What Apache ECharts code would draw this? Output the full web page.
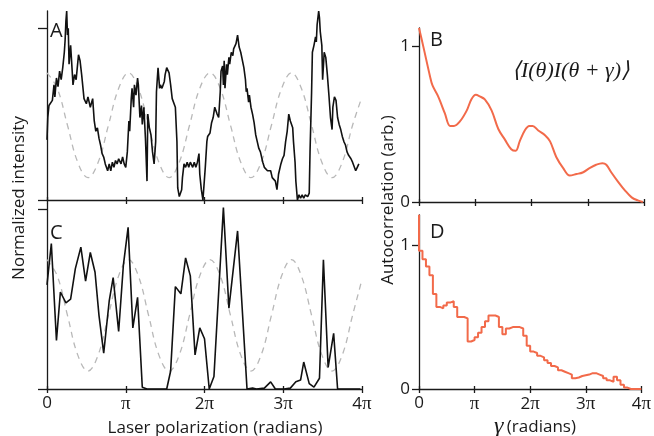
<!DOCTYPE html>
<html>
<head>
<meta charset="utf-8">
<script src="https://cdn.jsdelivr.net/npm/echarts@6/dist/echarts.min.js"></script>
<style>
  html, body { margin: 0; padding: 0; background: #fff; }
  #chart { width: 654px; height: 436px; }
</style>
</head>
<body>
<div id="chart"></div>
<script>
// x values are in units of pi (0..4 -> 0..4pi)
const xTickLabels = ['0', 'π', '2π', '3π', '4π'];

// panel A: measured intensity vs polarization
const traceA = [
    [0.00, 0.35], [0.01, 0.48], [0.025, 0.55], [0.046, 0.55], [0.068, 0.58], [0.089, 0.67],
    [0.10, 0.60], [0.12, 0.71], [0.14, 0.66], [0.16, 0.75], [0.18, 0.70], [0.20, 0.77],
    [0.22, 0.86], [0.23, 0.93], [0.24, 1.04], [0.25, 1.10], [0.26, 0.96], [0.27, 1.00],
    [0.28, 0.79], [0.30, 0.90], [0.32, 0.75], [0.33, 0.67], [0.35, 0.73], [0.37, 0.70],
    [0.40, 0.845], [0.42, 0.81], [0.44, 0.73], [0.47, 0.59], [0.50, 0.56], [0.52, 0.60],
    [0.55, 0.54], [0.58, 0.59], [0.60, 0.46], [0.62, 0.40], [0.64, 0.42], [0.66, 0.36],
    [0.68, 0.32], [0.70, 0.27], [0.72, 0.25], [0.74, 0.21], [0.77, 0.17], [0.79, 0.21],
    [0.81, 0.17], [0.83, 0.22], [0.85, 0.19], [0.87, 0.23], [0.89, 0.21], [0.91, 0.24],
    [0.94, 0.21], [0.96, 0.25], [0.98, 0.21], [1.00, 0.19], [1.02, 0.28], [1.04, 0.46],
    [1.05, 0.40], [1.07, 0.59], [1.08, 0.65], [1.10, 0.54], [1.11, 0.67], [1.13, 0.61],
    [1.15, 0.71], [1.16, 0.67], [1.18, 0.48], [1.20, 0.55], [1.21, 0.44], [1.23, 0.54],
    [1.25, 0.36], [1.27, 0.11], [1.28, 0.50], [1.30, 0.42], [1.32, 0.38], [1.34, 0.28],
    [1.36, 0.21], [1.38, 0.34], [1.39, 0.63], [1.41, 0.77], [1.43, 0.65], [1.44, 0.67],
    [1.46, 0.65], [1.49, 0.69], [1.50, 0.73], [1.52, 0.77], [1.54, 0.78], [1.55, 0.74],
    [1.57, 0.67], [1.59, 0.59], [1.61, 0.60], [1.63, 0.54], [1.65, 0.34], [1.66, 0.07],
    [1.68, 0.02], [1.71, 0.06], [1.72, 0.13], [1.74, 0.21], [1.76, 0.19], [1.78, 0.22],
    [1.80, 0.19], [1.82, 0.22], [1.85, 0.19], [1.87, 0.22], [1.89, 0.19], [1.91, 0.22],
    [1.93, 0.27], [1.94, 0.15], [1.96, 0.06], [1.98, 0.00], [2.00, 0.01], [2.01, 0.19],
    [2.03, 0.34], [2.04, 0.37], [2.07, 0.39], [2.09, 0.45], [2.11, 0.48], [2.13, 0.54],
    [2.15, 0.55], [2.16, 0.50], [2.18, 0.48], [2.20, 0.63], [2.21, 0.75], [2.23, 0.78],
    [2.24, 0.67], [2.25, 0.81], [2.26, 0.65], [2.28, 0.79], [2.29, 0.73], [2.31, 0.83],
    [2.32, 0.79], [2.34, 0.86], [2.36, 0.84], [2.37, 0.88], [2.40, 0.91], [2.42, 0.96],
    [2.44, 0.89], [2.46, 0.86], [2.48, 0.85], [2.50, 0.77], [2.52, 0.70], [2.53, 0.63],
    [2.54, 0.65], [2.56, 0.57], [2.57, 0.61], [2.59, 0.54], [2.61, 0.50], [2.63, 0.45],
    [2.65, 0.38], [2.67, 0.34], [2.69, 0.30], [2.71, 0.28], [2.74, 0.22], [2.76, 0.19],
    [2.78, 0.18], [2.80, 0.17], [2.82, 0.16], [2.84, 0.17], [2.86, 0.13], [2.88, 0.14],
    [2.90, 0.11], [2.92, 0.06], [2.94, 0.15], [2.97, 0.21], [2.99, 0.24], [3.01, 0.26],
    [3.03, 0.34], [3.05, 0.40], [3.07, 0.50], [3.09, 0.46], [3.12, 0.42], [3.13, 0.34],
    [3.15, 0.22], [3.16, 0.11], [3.18, 0.00], [3.20, 0.03], [3.22, 0.01], [3.24, 0.03],
    [3.26, 0.01], [3.28, 0.03], [3.31, 0.02], [3.33, 0.04], [3.34, 0.28], [3.36, 0.63],
    [3.37, 0.86], [3.39, 0.90], [3.41, 0.95], [3.42, 0.92], [3.43, 1.02], [3.45, 1.10],
    [3.46, 1.06], [3.47, 0.98], [3.49, 0.90], [3.50, 0.70], [3.52, 0.86], [3.54, 0.83],
    [3.56, 0.73], [3.58, 0.61], [3.60, 0.48], [3.62, 0.41], [3.63, 0.54], [3.65, 0.60],
    [3.67, 0.58], [3.69, 0.48], [3.71, 0.44], [3.73, 0.41], [3.75, 0.37], [3.77, 0.34],
    [3.79, 0.32], [3.81, 0.28], [3.83, 0.26], [3.86, 0.24], [3.88, 0.22], [3.90, 0.22],
    [3.92, 0.17], [3.94, 0.19], [3.96, 0.21]
];

// panel C: coarser measurement
const traceC = [
    [0.00, 0.58], [0.055, 0.81], [0.12, 0.27], [0.17, 0.54], [0.24, 0.48], [0.30, 0.50],
    [0.36, 0.67], [0.43, 0.79], [0.49, 0.60], [0.55, 0.76], [0.61, 0.65], [0.66, 0.41],
    [0.72, 0.20], [0.79, 0.49], [0.84, 0.62], [0.91, 0.32], [0.97, 0.69], [1.03, 0.90],
    [1.09, 0.34], [1.15, 0.51], [1.21, 0.01], [1.27, 0.00], [1.40, 0.00], [1.52, 0.00],
    [1.57, 0.10], [1.63, 0.57], [1.70, 0.53], [1.76, 0.73], [1.82, 0.63], [1.88, 0.19],
    [1.94, 0.34], [2.00, 0.28], [2.06, 0.00], [2.12, 0.07], [2.24, 1.01], [2.31, 0.45],
    [2.42, 0.88], [2.54, 0.00], [2.61, 0.005], [2.66, 0.00], [2.76, 0.005], [2.84, 0.04],
    [2.90, 0.00], [3.01, 0.00], [3.09, 0.005], [3.16, 0.04], [3.22, 0.05], [3.26, 0.15],
    [3.33, 0.03], [3.39, 0.01], [3.46, 0.06], [3.51, 0.72], [3.57, 0.12], [3.64, 0.31],
    [3.69, 0.00], [3.81, 0.00], [3.98, 0.00]
];

// grey dashed reference curves (A and C)
const dashX = [0, 0.13, 0.26, 0.39, 0.52, 0.65, 0.78, 0.91, 1.035, 1.16, 1.29, 1.42, 1.55, 1.68, 1.81, 1.94,
    2.07, 2.20, 2.33, 2.46, 2.59, 2.72, 2.85, 2.98, 3.105, 3.23, 3.36, 3.49, 3.62, 3.75, 3.88, 4.0];
const dashA = [0.74, 0.65, 0.435, 0.22, 0.13, 0.22, 0.435, 0.65, 0.74, 0.65, 0.435, 0.22, 0.13, 0.22, 0.435, 0.65,
    0.74, 0.65, 0.435, 0.22, 0.13, 0.22, 0.435, 0.65, 0.74, 0.65, 0.435, 0.22, 0.13, 0.22, 0.435, 0.60];
const dashC = [0.72, 0.63, 0.41, 0.19, 0.10, 0.19, 0.41, 0.63, 0.72, 0.63, 0.41, 0.19, 0.10, 0.19, 0.41, 0.63,
    0.72, 0.63, 0.41, 0.19, 0.10, 0.19, 0.41, 0.63, 0.72, 0.63, 0.41, 0.19, 0.10, 0.19, 0.41, 0.61];

// panel B: smooth autocorrelation
const autoB = [
    [0, 1.12], [0.077, 1.0], [0.195, 0.81], [0.24, 0.75], [0.34, 0.68], [0.46, 0.57],
    [0.55, 0.49], [0.62, 0.49], [0.73, 0.52], [0.85, 0.59], [0.93, 0.66], [1.01, 0.69],
    [1.08, 0.68], [1.17, 0.66], [1.29, 0.59], [1.41, 0.47], [1.53, 0.40], [1.64, 0.34],
    [1.72, 0.33], [1.79, 0.39], [1.88, 0.46], [1.96, 0.49], [2.02, 0.49], [2.12, 0.46],
    [2.24, 0.43], [2.33, 0.39], [2.44, 0.29], [2.56, 0.22], [2.68, 0.17], [2.80, 0.18],
    [2.91, 0.19], [3.04, 0.22], [3.15, 0.24], [3.26, 0.25], [3.33, 0.24], [3.42, 0.19],
    [3.54, 0.13], [3.66, 0.075], [3.78, 0.03], [3.89, 0.01], [3.98, 0.0]
];

// panel D: stepped autocorrelation, one value per 1/16 pi
const autoDx = [];
for (let k = 0; k <= 64; k++) autoDx.push(k / 16);
const autoD = [0.96, 0.90, 0.85, 0.79, 0.66, 0.57, 0.56, 0.58, 0.60, 0.61, 0.57, 0.50, 0.50, 0.49, 0.33, 0.34,
    0.36, 0.39, 0.43, 0.47, 0.51, 0.51, 0.50, 0.43, 0.38, 0.42, 0.43, 0.43, 0.43, 0.42, 0.37, 0.30,
    0.26, 0.25, 0.23, 0.22, 0.20, 0.18, 0.16, 0.15, 0.13, 0.12, 0.11, 0.10, 0.075, 0.08, 0.09, 0.095,
    0.10, 0.11, 0.11, 0.10, 0.09, 0.075, 0.06, 0.05, 0.085, 0.06, 0.03, 0.01, 0.0, 0.0, 0.0, 0.0, 0.0];
const autoDStart = 1.21;

const orange = '#f26a4a';
const axisColor = '#1a1a1a';
const sans = 'Open Sans';

let chart = echarts.init(document.getElementById('chart'), null, { renderer: 'canvas' });

function piLabel(v) {
    let t = xTickLabels[Math.round(v)];
    if (t === '0') return '{n|0}';
    if (t === 'π') return '{p|π}';
    return '{n|' + t.charAt(0) + '}{p|π}';
}

const labelRich = {
    n: { fontFamily: sans, fontSize: 17, color: axisColor },
    p: { fontFamily: 'Liberation Serif', fontSize: 19, color: axisColor }
};

function makeX(grid, showLabels) {
    return [{
        type: 'value', gridIndex: grid, position: 'bottom', min: 0, max: 4, interval: 1,
        axisLine: { show: true, lineStyle: { color: axisColor, width: 1.3 } },
        axisTick: { show: true, inside: false, length: 4, lineStyle: { color: axisColor, width: 1.3 } },
        axisLabel: { show: showLabels, margin: 6, formatter: piLabel, rich: labelRich },
        splitLine: { show: false }
    }, {
        type: 'value', gridIndex: grid, position: 'bottom', min: 0, max: 4, interval: 1,
        axisLine: { show: false },
        axisTick: { show: true, inside: true, length: 3, lineStyle: { color: axisColor, width: 1.3 } },
        axisLabel: { show: false },
        splitLine: { show: false }
    }];
}

function makeY(grid, max, showLabels, tickLen) {
    return {
        type: 'value', gridIndex: grid, min: 0, max: max,
        axisLine: { show: true, lineStyle: { color: axisColor, width: 1.3 } },
        axisTick: { show: true, length: tickLen, customValues: [0, 1], lineStyle: { color: axisColor, width: 1.3 } },
        axisLabel: {
            show: showLabels, customValues: [0, 1], margin: 9,
            fontFamily: sans, fontSize: 17, color: axisColor
        },
        splitLine: { show: false }
    };
}

let xAxes = [].concat(makeX(0, false), makeX(1, false), makeX(2, true), makeX(3, true));

function lineSeries(xi, yi, data, style, extra) {
    return Object.assign({
        type: 'line', xAxisIndex: xi, yAxisIndex: yi, data: data,
        showSymbol: false, symbol: 'none', silent: true, animation: false,
        lineStyle: style
    }, extra || {});
}

const dashStyle = { color: '#b8b8b8', width: 1.3, type: [6, 5] };
const blackStyle = { color: '#111', width: 1.6 };

let option = {
    backgroundColor: '#fff',
    animation: false,
    grid: [
        { left: 47, top: 11, width: 315, height: 189 },   // A
        { left: 419, top: 28, width: 225, height: 174 },  // B
        { left: 47, top: 204, width: 315, height: 185 },  // C
        { left: 419, top: 215, width: 225, height: 174 }  // D
    ],
    xAxis: xAxes,
    yAxis: [
        makeY(0, 1.1, false, 9),
        makeY(1, 1.12, true, 7),
        makeY(2, 1.03, false, 9),
        makeY(3, 1.208, true, 7)
    ],
    series: [
        lineSeries(0, 0, dashX.map((x, i) => [x, dashA[i]]), dashStyle, { smooth: 0.4, z: 1 }),
        lineSeries(0, 0, traceA, blackStyle, { z: 3 }),
        lineSeries(4, 2, dashX.map((x, i) => [x, dashC[i]]), dashStyle, { smooth: 0.4, z: 1 }),
        lineSeries(4, 2, traceC, blackStyle, { z: 3 }),
        lineSeries(2, 1, autoB, { color: orange, width: 2 }, { smooth: 0.35 }),
        lineSeries(6, 3, [[0, autoDStart]].concat(autoDx.map((x, i) => [x, autoD[i]])),
            { color: orange, width: 2 }, { step: 'end' })
    ],
    graphic: [
        { type: 'text', x: 19, y: 198, rotation: Math.PI / 2,
          style: { text: 'Normalized intensity', font: '17px "Open Sans"', fill: axisColor, align: 'center', verticalAlign: 'middle' } },
        { type: 'text', x: 388, y: 200, rotation: Math.PI / 2,
          style: { text: 'Autocorrelation (arb.)', font: '17px "Open Sans"', fill: axisColor, align: 'center', verticalAlign: 'middle' } },
        { type: 'text', x: 215, y: 428,
          style: { text: 'Laser polarization (radians)', font: '17px "Open Sans"', fill: axisColor, align: 'center', verticalAlign: 'middle' } },
        { type: 'text', x: 535, y: 427,
          style: {
              text: '{g|γ} {t|(radians)}', align: 'center', verticalAlign: 'middle',
              rich: {
                  g: { fontFamily: 'Liberation Serif', fontStyle: 'italic', fontSize: 24, fill: axisColor },
                  t: { fontFamily: sans, fontSize: 17, fill: axisColor }
              }
          } },
        { type: 'text', x: 571, y: 71,
          style: { text: '⟨I(θ)I(θ + γ)⟩', font: 'italic 22px "Liberation Serif"', fill: axisColor, align: 'center', verticalAlign: 'middle' } },
        { type: 'text', x: 50, y: 31, style: { text: 'A', font: '20px "Open Sans"', fill: axisColor, verticalAlign: 'middle' } },
        { type: 'text', x: 430, y: 40, style: { text: 'B', font: '20px "Open Sans"', fill: axisColor, verticalAlign: 'middle' } },
        { type: 'text', x: 50, y: 233, style: { text: 'C', font: '20px "Open Sans"', fill: axisColor, verticalAlign: 'middle' } },
        { type: 'text', x: 430, y: 232, style: { text: 'D', font: '20px "Open Sans"', fill: axisColor, verticalAlign: 'middle' } }
    ]
};

chart.setOption(option);
</script>
</body>
</html>
